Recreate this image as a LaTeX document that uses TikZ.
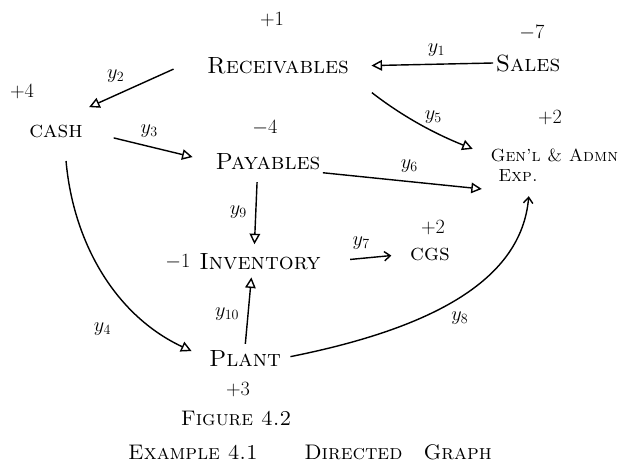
\documentclass[tikz,border=0pt]{standalone}
\usetikzlibrary{positioning, arrows.meta, calc}

\begin{document}
\begin{tikzpicture}[x=0.03cm, y=0.03cm,
    acct/.style={font=\fontsize{20}{22}\selectfont\scshape, inner sep=2pt},
    acctSmall/.style={font=\fontsize{15}{17}\selectfont\scshape, inner sep=2pt},
    val/.style={font=\fontsize{17}{19}\selectfont, inner sep=1pt},
    flow/.style={font=\fontsize{17}{19}\selectfont, inner sep=1pt},
    capt/.style={font=\fontsize{18}{20}\selectfont\scshape},
    >={Triangle[open, length=9pt, width=9pt]},
    link/.style={->, line width=1.2pt},
    barb/.style={-{Straight Barb[length=5pt, width=8pt]}, line width=1.2pt},
]
\useasboundingbox (0,0) rectangle (624,-470);
\node[acct]      (rec)    at (278,-66)  {Receivables};
\node[acct]      (sales)  at (528,-63)  {Sales};
\node[acct]      (cash)   at (56,-131)  {cash};
\node[acct]      (pay)    at (268,-162) {Payables};
\node[acctSmall, anchor=west] (gen) at (488,-155) {Gen'l \& Admn};
\node[acctSmall] (exp)    at (518,-176) {Exp.};
\node[acct]      (inv)    at (260,-262) {Inventory};
\node[acct]      (cgs)    at (430,-254) {cgs};
\node[acct]      (plant)  at (245,-358) {Plant};
\node[val] (vrec)   at (272,-20)  {$+1$};
\node[val] (vsales) at (532,-33)  {$-7$};
\node[val] (vcash)  at (22,-92)   {$+4$};
\node[val] (vpay)   at (265,-128) {$-4$};
\node[val] (vgen)   at (550,-118) {$+2$};
\node[val] (vinv)   at (178,-262) {$-1$};
\node[val] (vcgs)   at (433,-228) {$+2$};
\node[val] (vplant) at (238,-390) {$+3$};
\node[capt] (fig)   at (236,-418) {Figure 4.2};
\node[capt] (title) at (310,-452) {Example 4.1\hspace{2.2em}Directed\hspace{1em}Graph};
\draw[link, shorten >=17pt] (sales.west) -- node[flow, pos=0.4, above=5pt] {$y_1$} (rec.east);
\draw[link, shorten <=29pt, shorten >=31pt] (rec.north west) -- node[flow, above left=5pt] {$y_2$} (cash.north);
\draw[link, shorten <=25pt, shorten >=18pt] (cash.east) -- node[flow, above=6pt] {$y_3$} (pay.west);
\draw[link, shorten <=22pt, shorten >=14pt] (rec.south east) to[bend right=8] node[flow, pos=0.55, above right=0pt] {$y_5$} (gen.west);
\draw[link, shorten >=12pt] (pay.south east) -- node[flow, pos=0.5, above=6pt] {$y_6$} ([yshift=-5pt]exp.south west);
\draw[link, shorten <=8pt, shorten >=6pt] ([xshift=-9pt]pay.south) -- node[flow, left=6pt] {$y_9$} ([xshift=-5pt]inv.north);
\draw[barb, shorten <=23pt, shorten >=14pt] (inv.east) -- node[flow, pos=0.45, above=6pt] {$y_7$} (cgs.west);
\draw[link, shorten <=3pt, shorten >=4pt] (plant.north) -- node[flow, pos=0.45, left=6pt] {$y_{10}$} ([xshift=-7pt]inv.south);
\draw[link, shorten <=18pt, shorten >=14pt] ([xshift=7pt]cash.south) to[out=-85, in=155] node[flow, pos=0.72, below left=8pt, xshift=-18pt] {$y_4$} (plant.west);
\draw[barb, shorten <=6pt, shorten >=10pt] (plant.east) .. controls +(150,30) and +(-8,-95) .. node[flow, pos=0.5, below=12pt] {$y_8$} ([xshift=10pt]exp.south);
\end{tikzpicture}
\end{document}
